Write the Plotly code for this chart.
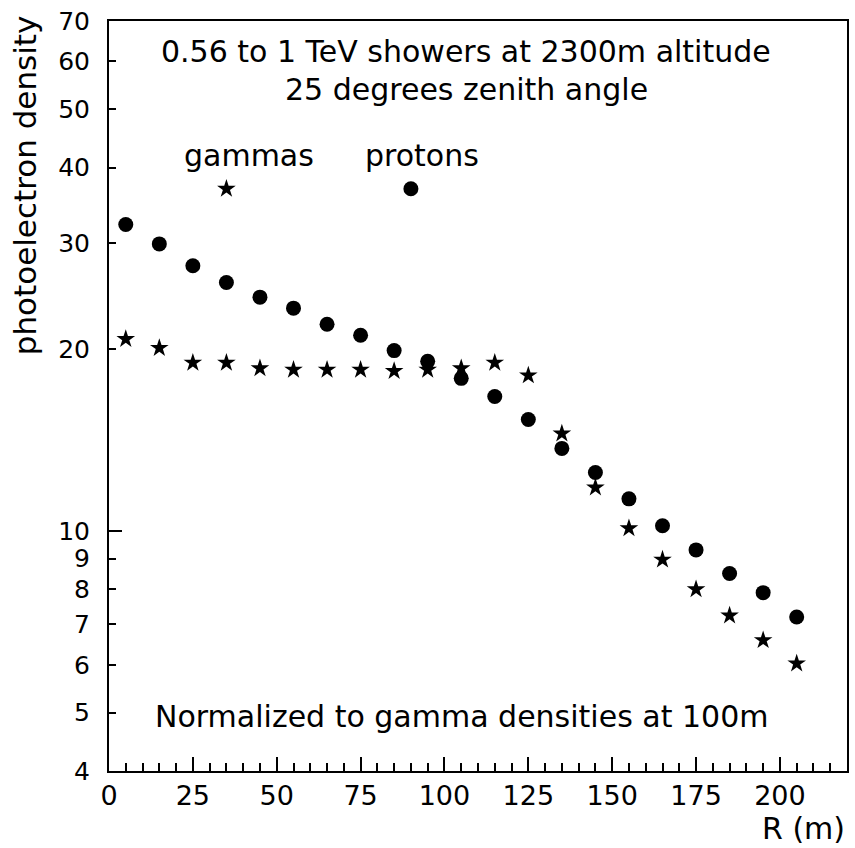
import plotly.graph_objects as go

R = [5, 15, 25, 35, 45, 55, 65, 75, 85, 95, 105, 115, 125, 135, 145, 155, 165, 175, 185, 195, 205]
protons = [32.2, 29.9, 27.5, 25.8, 24.4, 23.4, 22.0, 21.1, 19.9, 19.1, 17.9, 16.7, 15.3, 13.7,
           12.5, 11.3, 10.2, 9.3, 8.5, 7.9, 7.2]
gammas = [20.8, 20.1, 19.0, 19.0, 18.6, 18.5, 18.5, 18.5, 18.4, 18.5, 18.6, 19.0, 18.1, 14.5,
          11.8, 10.1, 8.96, 8.0, 7.24, 6.59, 6.03]
legend_y = 36.9
legend_x_gamma = 35
legend_x_proton = 90

y_ticks = [4, 5, 6, 7, 8, 9, 10, 20, 30, 40, 50, 60, 70]
x_ticks = [0, 25, 50, 75, 100, 125, 150, 175, 200]

FONT = "DejaVu Sans"

fig = go.Figure()
fig.add_trace(go.Scatter(x=R, y=protons, mode="markers",
                         marker=dict(symbol="circle", size=15, color="black"), showlegend=False))
fig.add_trace(go.Scatter(x=R, y=gammas, mode="markers",
                         marker=dict(symbol="star", size=14, color="black"), showlegend=False))
fig.add_trace(go.Scatter(x=[legend_x_gamma], y=[legend_y], mode="markers",
                         marker=dict(symbol="star", size=14, color="black"), showlegend=False))
fig.add_trace(go.Scatter(x=[legend_x_proton], y=[legend_y], mode="markers",
                         marker=dict(symbol="circle", size=15, color="black"), showlegend=False))

fig.update_xaxes(range=[0, 220], showgrid=False, zeroline=False, showline=True, linecolor="black",
                 linewidth=2, mirror=True, ticks="inside", ticklen=14, tickwidth=2, tickcolor="black",
                 tickvals=x_ticks, ticktext=[str(v) for v in x_ticks],
                 tickfont=dict(family=FONT, size=27, color="black"),
                 minor=dict(dtick=5, tick0=0, ticks="inside", ticklen=8, tickwidth=2, tickcolor="black"))
fig.update_yaxes(type="log", range=[0.60206, 1.845098], showgrid=False, zeroline=False, showline=True,
                 linecolor="black", linewidth=2, mirror=True, ticks="inside", ticklen=7, tickwidth=2,
                 tickcolor="black", tickvals=y_ticks, ticktext=[str(v) for v in y_ticks],
                 tickfont=dict(family=FONT, size=25, color="black"), ticklabelstandoff=12,
                 minor=dict(tickvals=[10], ticks="inside", ticklen=13, tickwidth=2, tickcolor="black"))

ann_font = dict(family=FONT, size=30, color="black")
anns = [
    dict(text="0.56 to 1 TeV showers at 2300m altitude", x=0.484, y=0.959),
    dict(text="25 degrees zenith angle", x=0.484, y=0.908),
    dict(text="gammas", x=(249 - 109) / 740, y=0.821),
    dict(text="protons", x=(423 - 109) / 740, y=0.821),
    dict(text="Normalized to gamma densities at 100m", x=0.478, y=0.073),
]
for a in anns:
    fig.add_annotation(text=a["text"], x=a["x"], y=a["y"], xref="paper", yref="paper",
                       showarrow=False, font=ann_font, xanchor="center", yanchor="middle")
fig.add_annotation(text="photoelectron density", x=(25 - 109) / 740, y=(771 - 185) / 750,
                   xref="paper", yref="paper", showarrow=False, textangle=-90,
                   font=dict(family=FONT, size=31, color="black"), xanchor="center", yanchor="middle")
fig.add_annotation(text="R (m)", x=1.0, y=(771 - 828) / 750, xref="paper", yref="paper",
                   showarrow=False, font=ann_font, xanchor="right", yanchor="middle")

fig.update_layout(width=855, height=848, margin=dict(l=109, r=6, t=21, b=77),
                  paper_bgcolor="white", plot_bgcolor="white")
fig.write_html("out.html")
